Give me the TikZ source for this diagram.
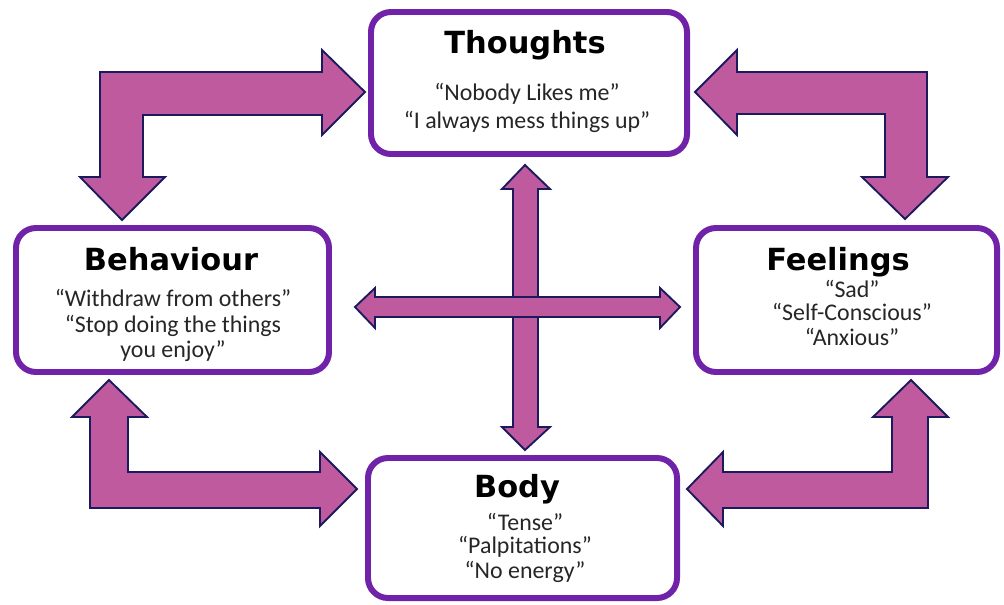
\documentclass[tikz,border=0pt]{standalone}
\usepackage{fontspec}
\setmainfont{Carlito}
\newfontfamily\headfont{DejaVu Sans}
\usepackage{tikz}
\usepackage{xcolor}
\definecolor{boxpurple}{HTML}{7022A8}
\definecolor{arrowpink}{HTML}{C05A9E}
\definecolor{arrowline}{HTML}{1C1A5E}

\begin{document}
\begin{tikzpicture}[x=0.03cm, y=-0.03cm,
    box/.style={draw=boxpurple, line width=5.1pt, rounded corners=0.6cm, fill=white, inner sep=0},
    blockarrow/.style={draw=arrowline, line width=1.6pt, fill=arrowpink, line join=miter},
    heading/.style={font=\headfont\bfseries\fontsize{26}{30}\selectfont, anchor=base, inner sep=0},
    quote/.style={font=\fontsize{20.4}{24}\selectfont, text=black!85, anchor=base, inner sep=0}]

    % Marco de la figura (en pixeles de la imagen)
    \useasboundingbox (0,0) rectangle (1004,604);

    % Cajas
    \node[box, minimum width=9.48cm, minimum height=4.26cm] (thoughts) at (529,83) {};
    \node[box, minimum width=9.39cm, minimum height=4.32cm] (behaviour) at (172.5,300) {};
    \node[box, minimum width=9.03cm, minimum height=4.32cm] (feelings) at (846.5,300) {};
    \node[box, minimum width=9.27cm, minimum height=4.2cm] (body) at (522.5,528) {};

    % Titulos
    \node[heading] (thoughts-title) at (525,53) {Thoughts};
    \node[heading] (behaviour-title) at (171,270) {Behaviour};
    \node[heading] (feelings-title) at (838,270) {Feelings};
    \node[heading] (body-title) at (517,497) {Body};

    % Frases de cada caja
    \foreach \txt/\y [count=\i] in {“Nobody Likes me”/100, “I always mess things up”/128}
        \node[quote] (thoughts-\i) at (527,\y) {\txt};
    \foreach \txt/\y [count=\i] in {“Withdraw from others”/306, “Stop doing the things/332, you enjoy”/357}
        \node[quote] (behaviour-\i) at (173,\y) {\txt};
    \foreach \txt/\y [count=\i] in {“Sad”/297, “Self-Conscious”/320, “Anxious”/345}
        \node[quote] (feelings-\i) at (852,\y) {\txt};
    \foreach \txt/\y [count=\i] in {“Tense”/530, “Palpitations”/553, “No energy”/578}
        \node[quote] (body-\i) at (525,\y) {\txt};

    % Flechas en codo: behaviour <-> thoughts
    \draw[blockarrow] (100,72) -- (322,72) -- (322,50) -- (365,92) -- (322,135) -- (322,115)
        -- (143,115) -- (143,177) -- (165,177) -- (122,220) -- (80,177) -- (100,177) -- cycle;

    % thoughts <-> feelings
    \draw[blockarrow] (927,72) -- (737,72) -- (737,50) -- (695,92) -- (737,135) -- (737,114)
        -- (885,114) -- (885,177) -- (862,177) -- (905,219) -- (948,177) -- (927,177) -- cycle;

    % behaviour <-> body
    \draw[blockarrow] (90,508) -- (90,417) -- (72,417) -- (109,380) -- (147,417) -- (128,417)
        -- (128,472) -- (320,472) -- (320,452) -- (357,489) -- (320,526) -- (320,508) -- cycle;

    % feelings <-> body
    \draw[blockarrow] (928,508) -- (928,417) -- (948,417) -- (911,380) -- (873,417) -- (892,417)
        -- (892,472) -- (723,472) -- (723,452) -- (687,489) -- (723,526) -- (723,508) -- cycle;

    % Cruz central
    \draw[blockarrow] (513,189) -- (502,189) -- (525,165) -- (550,189) -- (538,189) -- (538,427)
        -- (550,427) -- (525,450) -- (502,427) -- (513,427) -- cycle;
    \draw[blockarrow] (375,297) -- (375,288) -- (355,307) -- (375,328) -- (375,317) -- (660,317)
        -- (660,328) -- (680,307) -- (660,288) -- (660,297) -- cycle;

\end{tikzpicture}
\end{document}
